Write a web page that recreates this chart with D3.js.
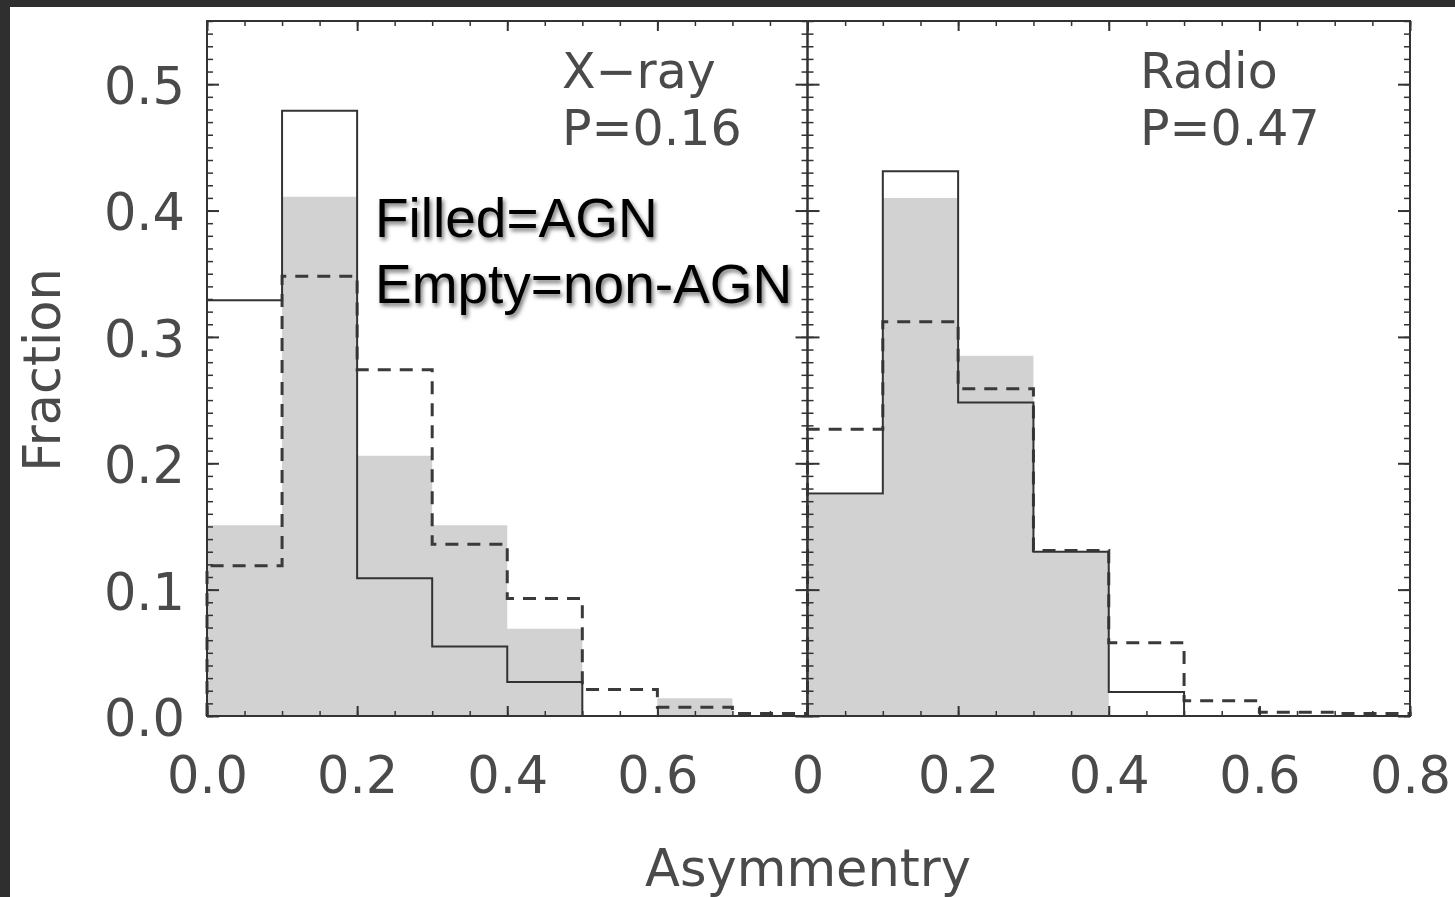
<!DOCTYPE html>
<html>
<head>
<meta charset="utf-8">
<script src="https://cdn.jsdelivr.net/npm/d3@7"></script>
<style>
  html, body { margin: 0; padding: 0; background: #fff; }
  svg { display: block; }
</style>
</head>
<body>
<svg id="chart" width="1455" height="897"></svg>
<script>
// ---------------- data ----------------
const binEdges = [0, 0.1, 0.2, 0.3, 0.4, 0.5, 0.6, 0.7, 0.8];

const xrayAgnFilled   = [0.151, 0.411, 0.206, 0.151, 0.069, 0.000, 0.014, 0.000];
const xraySolid       = [0.329, 0.479, 0.109, 0.055, 0.027, 0.000, 0.000, 0.000];
const xrayDashed      = [0.119, 0.348, 0.274, 0.136, 0.093, 0.021, 0.007, 0.002];

const radioAgnFilled  = [0.175, 0.410, 0.285, 0.130, 0.000, 0.000, 0.000, 0.000];
const radioSolid      = [0.176, 0.431, 0.248, 0.130, 0.019, 0.000, 0.000, 0.000];
const radioDashed     = [0.227, 0.312, 0.259, 0.131, 0.058, 0.012, 0.003, 0.002];

const yTickValues   = [0.0, 0.1, 0.2, 0.3, 0.4, 0.5];
const yTickLabels   = ["0.0", "0.1", "0.2", "0.3", "0.4", "0.5"];
const xTickValues   = [0.0, 0.2, 0.4, 0.6, 0.8];
const xLabelsXray   = ["0.0", "0.2", "0.4", "0.6", ""];
const xLabelsRadio  = ["0", "0.2", "0.4", "0.6", "0.8"];

const panelNames    = ["X\u2212ray", "Radio"];
const panelPvalues  = ["P=0.16", "P=0.47"];
const legendLines   = ["Filled=AGN", "Empty=non-AGN"];
const xTitle = "Asymmentry";
const yTitle = "Fraction";

// ---------------- layout ----------------
const W = 1455, H = 897;
const plotTop = 21, plotBottom = 716;
const panelX = [[207, 807.5], [807.5, 1410]];
const ink = "#333";
const txt = "#4a4a4a";
const idlFont = "'DejaVu Sans', sans-serif";
const idlSize = 51;

const svg = d3.select("#chart");

// drop shadow filter for legend text
const defs = svg.append("defs");
const f = defs.append("filter").attr("id", "shadow").attr("x", "-10%").attr("y", "-30%").attr("width", "130%").attr("height", "170%");
f.append("feDropShadow").attr("dx", 2).attr("dy", 3).attr("stdDeviation", 2).attr("flood-color", "#000").attr("flood-opacity", 0.55);

// background frame (dark edges of the screenshot)
svg.append("rect").attr("x", 0).attr("y", 0).attr("width", W).attr("height", H).attr("fill", "#2f2f2f");
svg.append("rect").attr("x", 10).attr("y", 7).attr("width", W - 10).attr("height", H - 7).attr("fill", "#fff");

const y = d3.scaleLinear().domain([0, 0.55]).range([plotBottom, plotTop]);

const panels = [
  { filled: xrayAgnFilled, solid: xraySolid, dashed: xrayDashed, labels: xLabelsXray },
  { filled: radioAgnFilled, solid: radioSolid, dashed: radioDashed, labels: xLabelsRadio }
];

function stepPoints(vals) {
  const pts = [[binEdges[0], 0]];
  vals.forEach((v, i) => { pts.push([binEdges[i], v]); pts.push([binEdges[i + 1], v]); });
  pts.push([binEdges[binEdges.length - 1], 0]);
  return pts;
}

const yMinor = d3.range(0, 0.5501, 0.01);
const xMinor = d3.range(0, 0.8001, 0.05);

panels.forEach((p, pi) => {
  const x = d3.scaleLinear().domain([0, 0.8]).range(panelX[pi]);
  const g = svg.append("g");

  const line = d3.line().x(d => x(d[0])).y(d => y(d[1]));
  const area = d3.area().x(d => x(d[0])).y0(y(0)).y1(d => y(d[1]));

  // filled AGN histogram
  g.append("path").attr("d", area(stepPoints(p.filled))).attr("fill", "#d2d2d2").attr("stroke", "none");

  // dashed histogram
  g.append("path").attr("d", line(stepPoints(p.dashed))).attr("fill", "none")
    .attr("stroke", "#3a3a3a").attr("stroke-width", 3).attr("stroke-dasharray", "13,9");

  // solid histogram
  g.append("path").attr("d", line(stepPoints(p.solid))).attr("fill", "none")
    .attr("stroke", ink).attr("stroke-width", 2);

  // axes: ticks inward
  const styleAxis = (sel, w) => {
    sel.select(".domain").remove();
    sel.selectAll(".tick line").attr("stroke", ink).attr("stroke-width", w);
  };
  const fmtX = v => { const i = xTickValues.findIndex(t => Math.abs(t - v) < 1e-9); return i < 0 ? "" : p.labels[i]; };
  const fmtY = v => { const i = yTickValues.findIndex(t => Math.abs(t - v) < 1e-9); return i < 0 ? "" : yTickLabels[i]; };

  // bottom
  g.append("g").attr("transform", `translate(0,${plotBottom})`)
    .call(d3.axisBottom(x).tickValues(xMinor).tickSize(-5).tickFormat(""))
    .call(s => styleAxis(s, 1.5));
  const bx = g.append("g").attr("transform", `translate(0,${plotBottom})`)
    .call(d3.axisBottom(x).tickValues(xTickValues).tickSize(-10).tickPadding(41).tickFormat(fmtX))
    .call(s => styleAxis(s, 2));
  bx.selectAll(".tick text").attr("font-family", idlFont).attr("font-size", idlSize).attr("fill", txt);

  // top
  g.append("g").attr("transform", `translate(0,${plotTop})`)
    .call(d3.axisTop(x).tickValues(xMinor).tickSize(-5).tickFormat(""))
    .call(s => styleAxis(s, 1.5));
  g.append("g").attr("transform", `translate(0,${plotTop})`)
    .call(d3.axisTop(x).tickValues(xTickValues).tickSize(-10).tickFormat(""))
    .call(s => styleAxis(s, 2));

  // left
  g.append("g").attr("transform", `translate(${panelX[pi][0]},0)`)
    .call(d3.axisLeft(y).tickValues(yMinor).tickSize(-6).tickFormat(""))
    .call(s => styleAxis(s, 1.5));
  const ly = g.append("g").attr("transform", `translate(${panelX[pi][0]},0)`)
    .call(d3.axisLeft(y).tickValues(yTickValues).tickSize(-12).tickPadding(22).tickFormat(pi === 0 ? fmtY : () => ""))
    .call(s => styleAxis(s, 2));
  ly.selectAll(".tick text").attr("font-family", idlFont).attr("font-size", idlSize).attr("fill", txt).attr("dy", "0.38em");

  // right
  g.append("g").attr("transform", `translate(${panelX[pi][1]},0)`)
    .call(d3.axisRight(y).tickValues(yMinor).tickSize(-6).tickFormat(""))
    .call(s => styleAxis(s, 1.5));
  g.append("g").attr("transform", `translate(${panelX[pi][1]},0)`)
    .call(d3.axisRight(y).tickValues(yTickValues).tickSize(-12).tickFormat(""))
    .call(s => styleAxis(s, 2));

  // frame
  g.append("rect").attr("x", panelX[pi][0]).attr("y", plotTop)
    .attr("width", panelX[pi][1] - panelX[pi][0]).attr("height", plotBottom - plotTop)
    .attr("fill", "none").attr("stroke", ink).attr("stroke-width", 2);

  // panel annotation
  const ax = pi === 0 ? 562 : 1140;
  g.append("text").attr("x", ax).attr("y", 88).text(panelNames[pi])
    .attr("font-family", idlFont).attr("font-size", 49).attr("fill", txt);
  g.append("text").attr("x", ax).attr("y", 145).text(panelPvalues[pi])
    .attr("font-family", idlFont).attr("font-size", 49).attr("fill", txt);
});

// axis titles
svg.append("text").attr("x", 808).attr("y", 886).attr("text-anchor", "middle").text(xTitle)
  .attr("font-family", idlFont).attr("font-size", idlSize).attr("fill", txt);
svg.append("text").attr("transform", "translate(60,370) rotate(-90)").attr("text-anchor", "middle").text(yTitle)
  .attr("font-family", idlFont).attr("font-size", idlSize).attr("fill", txt);

// legend note
legendLines.forEach((t, i) => {
  svg.append("text").attr("x", 375).attr("y", 237 + i * 66).text(t)
    .attr("font-family", "'Liberation Sans', Arial, sans-serif").attr("font-size", 55)
    .attr("fill", "#000").attr("filter", "url(#shadow)");
});
</script>
</body>
</html>
